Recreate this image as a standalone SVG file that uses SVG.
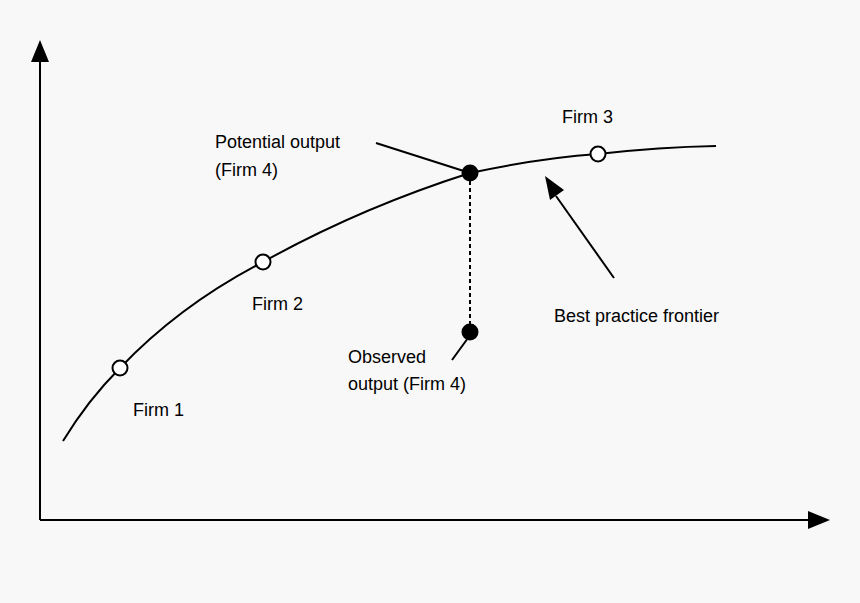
<svg xmlns="http://www.w3.org/2000/svg" width="860" height="603" viewBox="0 0 860 603">
<style>
text{font-family:"Liberation Sans",Arial,sans-serif;font-size:18px;fill:#000}
.l{stroke:#000;stroke-width:2;fill:none}
.o{fill:#fff;stroke:#000;stroke-width:2}
.f{fill:#000}
</style>
<defs>
<marker id="ah" viewBox="0 0 10 10" refX="9" refY="5" markerWidth="8" markerHeight="8" orient="auto" markerUnits="userSpaceOnUse"><path d="M0,0L10,5L0,10z" fill="#000"/></marker>
</defs>
<rect width="860" height="603" fill="#f8f8f8"/>
<g id="connectors">
<path class="l" d="M40,520V55"/>
<path d="M31,62L40,40L49,62z" fill="#000"/>
<path class="l" d="M40,520H812"/>
<path d="M808,511L830,520L808,529z" fill="#000"/>
<path class="l" d="M63,441 Q88,400 120,368 Q180,305 263,262 Q360,208 470,173 Q540,158 598,154 Q660,147 716,146" stroke-width="1.6"/>
<path class="l" d="M470,181V324" stroke-width="1.3" stroke-dasharray="4,3"/>
<path class="l" d="M376,143L470,173" stroke-width="1.6"/>
<path class="l" d="M452,360L468,338" stroke-width="1.6"/>
<path class="l" d="M614,278L556,196" stroke-width="2"/>
<path d="M545,176L564,190L550,200z" fill="#000"/>
</g>
<g id="firm1"><circle class="o" cx="120" cy="368" r="7.5"/><text x="133" y="416">Firm 1</text></g>
<g id="firm2"><circle class="o" cx="263" cy="262" r="7.5"/><text x="252" y="310">Firm 2</text></g>
<g id="firm3"><circle class="o" cx="598" cy="154" r="7.5"/><text x="562" y="123">Firm 3</text></g>
<g id="potential"><circle class="f" cx="470" cy="173" r="8.5"/><text x="215" y="148">Potential output</text><text x="215" y="176">(Firm 4)</text></g>
<g id="observed"><circle class="f" cx="470" cy="332" r="8.5"/><text x="348" y="363">Observed</text><text x="348" y="390">output (Firm 4)</text></g>
<g id="frontier"><text x="554" y="322">Best practice frontier</text></g>
</svg>
